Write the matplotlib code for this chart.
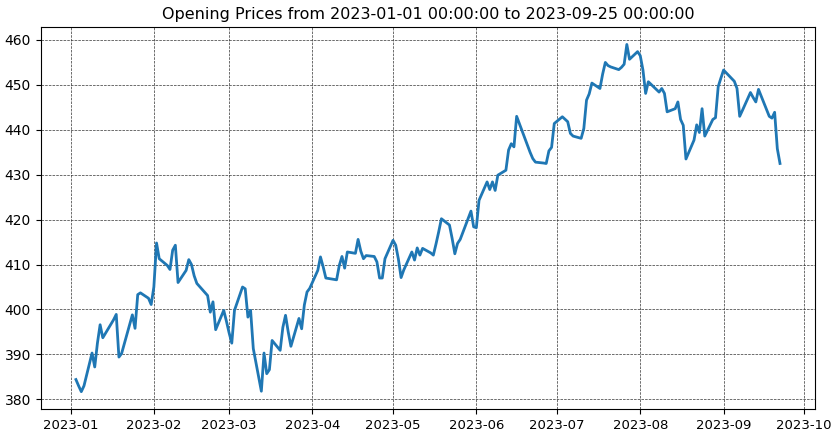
import matplotlib
matplotlib.use('Agg')
import matplotlib.pyplot as plt
import pandas as pd

# market holidays inside the range (no trading)
holidays = ['2023-01-16', '2023-02-20', '2023-04-07', '2023-05-29',
            '2023-06-19', '2023-07-04', '2023-09-04']

# opening prices per trading day
jan = [384.4, 383.0, 381.7, 383.0, 390.3, 387.2, 392.5, 396.6, 393.7, 397.7,
       398.9, 389.4, 390.2, 396.7, 398.8, 395.8, 403.3, 403.7, 402.5, 401.1]
feb = [405.0, 414.8, 411.3, 409.8, 408.9, 413.2, 414.3, 406.0, 408.7, 411.1,
       410.0, 407.5, 405.8, 403.1, 399.4, 401.7, 395.5, 399.8, 397.4]
mar = [394.8, 392.5, 399.8, 405.0, 404.6, 398.3, 399.8, 391.3, 381.8, 390.3,
       385.7, 386.6, 393.1, 390.9, 396.0, 398.7, 395.0, 391.8, 398.0, 395.7,
       401.0, 403.9, 404.7]
apr = [408.7, 411.7, 409.5, 407.0, 406.6, 409.8, 411.8, 409.2, 412.8, 412.5,
       415.6, 413.0, 411.3, 412.0, 411.8, 410.6, 407.0, 407.0, 411.3]
may = [415.4, 414.3, 411.2, 407.1, 408.8, 412.8, 411.0, 413.7, 412.1, 413.6,
       412.6, 412.1, 414.6, 417.3, 420.2, 418.8, 415.8, 412.4, 414.7, 415.6,
       421.9, 418.4]
jun = [418.2, 424.3, 428.4, 426.7, 428.4, 426.5, 429.9, 431.0, 435.5, 436.9,
       436.2, 443.0, 436.6, 435.0, 433.6, 432.8, 432.6, 432.5, 435.3, 436.1,
       441.4]
jul = [442.9, 441.8, 439.2, 438.6, 438.1, 440.3, 446.6, 448.0, 450.4, 449.2,
       452.4, 455.0, 454.3, 454.0, 453.4, 453.9, 454.6, 459.0, 455.7, 457.4]
aug = [456.5, 453.3, 448.1, 450.7, 449.0, 448.4, 449.2, 448.1, 444.0, 444.7,
       446.2, 442.3, 441.0, 433.5, 437.7, 441.1, 439.4, 444.7, 438.6, 442.3,
       442.7, 449.6, 451.5]
sep = [453.3, 450.8, 449.2, 443.0, 444.3, 448.3, 447.2, 446.2, 449.0, 447.5,
       443.0, 442.6, 443.9, 435.8, 432.5]

opens = jan + feb + mar + apr + may + jun + jul + aug + sep
days = pd.bdate_range('2023-01-03', '2023-09-22')
days = days[~days.isin(pd.to_datetime(holidays))]

fig = plt.figure(figsize=(8.31, 4.37), dpi=100)
ax = fig.add_axes([0.049, 0.064, 0.932, 0.874])
ax.plot(days, opens, color='#1f77b4', linewidth=2)
ax.set_title('Opening Prices from 2023-01-01 00:00:00 to 2023-09-25 00:00:00', fontsize=11.5)
ax.grid(True, color='0.2', linestyle='--', linewidth=0.5)
ax.tick_params(axis='x', labelsize=9.5)

fig.savefig('out.png', dpi=100)
